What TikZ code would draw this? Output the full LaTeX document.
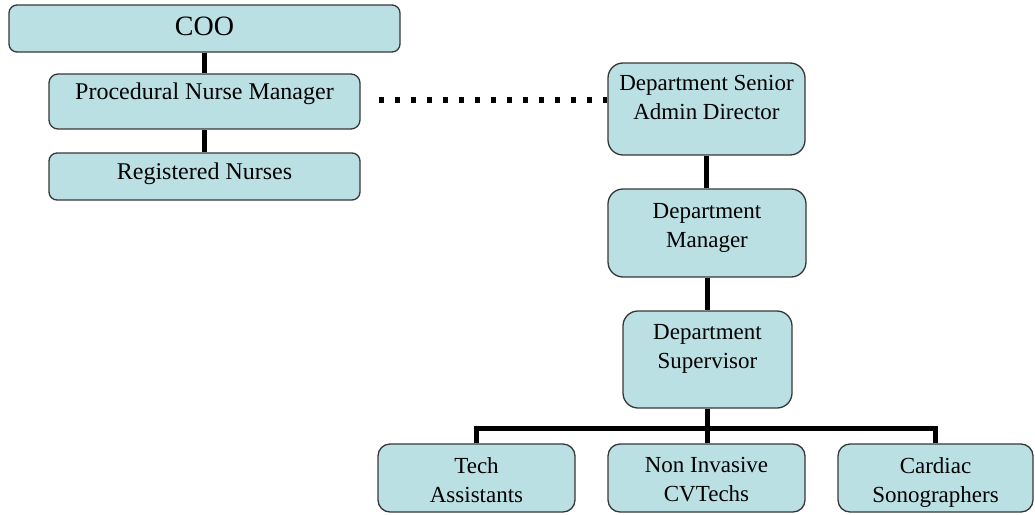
\documentclass[tikz,border=0pt]{standalone}
\usepackage{fontspec}
\setmainfont{Liberation Serif}
\definecolor{boxfill}{RGB}{187,224,228}
\definecolor{boxline}{RGB}{55,55,55}
\begin{document}
\begin{tikzpicture}[x=1pt,y=-1pt,
  unit/.style={draw=boxline, fill=boxfill, line width=1.3pt, inner sep=0pt},
  boxtext/.style={font=\fontsize{23}{29}\selectfont, align=center, anchor=north, inner sep=0pt},
  link/.style={line width=5pt, draw=black, line join=miter},
  dotline/.style={line width=5.5pt, draw=black, dash pattern=on 5.5pt off 10.5pt}]
\useasboundingbox (0,0) rectangle (1035,514);

% left branch
\node[unit, rounded corners=8pt,  minimum width=391pt, minimum height=47pt] (coo) at (204.5,28.5) {};
\node[unit, rounded corners=9pt,  minimum width=311pt, minimum height=55pt] (pnm) at (204.5,101.5) {};
\node[unit, rounded corners=8pt,  minimum width=311pt, minimum height=47pt] (rn)  at (204.5,176.5) {};

% department chain
\node[unit, rounded corners=15pt, minimum width=197pt, minimum height=92pt] (senior)     at (706.5,109) {};
\node[unit, rounded corners=15pt, minimum width=198pt, minimum height=88pt] (manager)    at (707,233) {};
\node[unit, rounded corners=15pt, minimum width=169pt, minimum height=97pt] (supervisor) at (707.5,359.5) {};

% staff
\node[unit, rounded corners=12pt, minimum width=197pt, minimum height=68pt] (tech)    at (476.5,478) {};
\node[unit, rounded corners=12pt, minimum width=197pt, minimum height=68pt] (noninv)  at (706.5,478) {};
\node[unit, rounded corners=12pt, minimum width=195pt, minimum height=68pt] (cardiac) at (935.5,478) {};

% box texts
\node[boxtext, font=\fontsize{28}{32}\selectfont] (coo-t) at (204.5,17) {COO};
\node[boxtext, font=\fontsize{24}{29}\selectfont] (pnm-t) at (204.5,83) {Procedural Nurse Manager};
\node[boxtext, font=\fontsize{24}{29}\selectfont] (rn-t)  at (204.5,163) {Registered Nurses};
\node[boxtext] (senior-t)     at (706.5,75)  {Department Senior\\Admin Director};
\node[boxtext] (manager-t)    at (707,203)   {Department\\Manager};
\node[boxtext] (supervisor-t) at (707.5,324) {Department\\Supervisor};
\node[boxtext] (tech-t)       at (476.5,457) {Tech\\Assistants};
\node[boxtext] (noninv-t)     at (706.5,457) {Non Invasive\\CVTechs};
\node[boxtext] (cardiac-t)    at (935.5,457) {Cardiac\\Sonographers};

% reporting lines
\coordinate (bar) at (0,428);
\draw[link] (coo.south) -- (pnm.north);
\draw[link] (pnm.south) -- (rn.north);
\draw[link] (senior.south) -- (senior.south |- manager.north);
\draw[link] (manager.south) -- (manager.south |- supervisor.north);
\draw[link] (supervisor.south) -- (supervisor.south |- noninv.north);
\draw[link] (tech.north) |- (cardiac.north |- bar) -- (cardiac.north);

% dotted liaison
\draw[dotline, shorten <=18pt] (pnm.east |- 0,100) -- (senior.west |- 0,100);
\end{tikzpicture}
\end{document}
